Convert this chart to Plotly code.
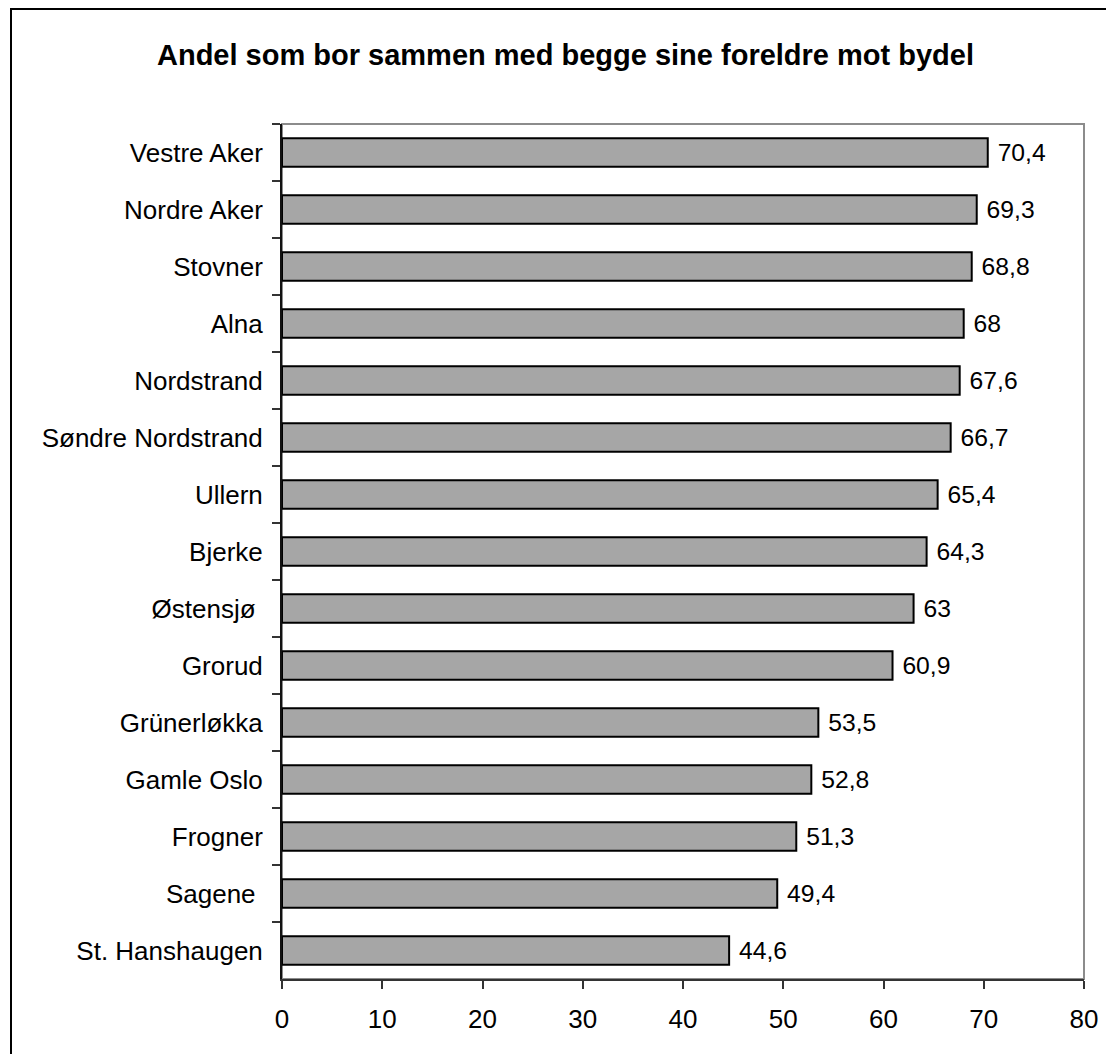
import plotly.graph_objects as go

# Districts from top to bottom, with share (%) living with both parents
bydeler = [
    "Vestre Aker", "Nordre Aker", "Stovner", "Alna", "Nordstrand",
    "Søndre Nordstrand", "Ullern", "Bjerke", "Østensjø\u00a0", "Grorud",
    "Grünerløkka", "Gamle Oslo", "Frogner", "Sagene\u00a0", "St. Hanshaugen",
]
andel = [70.4, 69.3, 68.8, 68, 67.6, 66.7, 65.4, 64.3, 63, 60.9,
         53.5, 52.8, 51.3, 49.4, 44.6]
etiketter = ["\u00a0" + f"{v:g}".replace(".", ",") for v in andel]
x_ticks = [0, 10, 20, 30, 40, 50, 60, 70, 80]

# page has an 8px body margin, so the figure is a bit smaller than the window
W, H = 1106, 1046
L, R, T, B = 274, 30, 116, 75
pw, ph = W - L - R, H - T - B

FONT = "Liberation Sans, Arial, sans-serif"

fig = go.Figure()
fig.add_trace(go.Bar(
    x=andel, y=bydeler, orientation="h",
    marker=dict(color="#A6A6A6", line=dict(color="black", width=2)),
    text=etiketter, textposition="outside",
    textfont=dict(size=26, color="black", family=FONT),
    cliponaxis=False, showlegend=False,
))

fig.update_layout(
    width=W, height=H,
    margin=dict(l=L, r=R, t=T, b=B),
    paper_bgcolor="white", plot_bgcolor="white",
    bargap=0.5,
    font=dict(family=FONT, size=26, color="black"),
    title=dict(
        text="<b>Andel som bor sammen med begge sine foreldre mot bydel</b>",
        x=(565.5 - 8) / W, xanchor="center", y=1 - 47 / H, yanchor="middle",
        font=dict(size=29, family=FONT, color="black"),
    ),
    xaxis=dict(
        range=[0, 80], tickvals=x_ticks, showgrid=False, zeroline=False,
        showline=True, linecolor="#333", linewidth=2,
        ticks="outside", ticklen=8, tickcolor="#333", tickwidth=2,
        ticklabelstandoff=8, tickfont=dict(size=26),
    ),
    yaxis=dict(
        type="category", autorange="reversed", tickson="boundaries",
        showgrid=False, zeroline=False,
        showline=True, linecolor="#111", linewidth=2,
        ticks="outside", ticklen=8, tickcolor="#333", tickwidth=2,
        ticklabelstandoff=12, tickfont=dict(size=26),
    ),
    shapes=[
        # plot area border (gray top/right)
        dict(type="rect", xref="paper", yref="paper", x0=0, y0=0, x1=1, y1=1,
             line=dict(color="#8C8C8C", width=2), layer="below"),
        # outer chart frame (cut off at right and bottom)
        dict(type="rect", xref="paper", yref="paper",
             x0=(3 - L) / pw, y0=-0.3, x1=1.2, y1=1 + (T - 1) / ph,
             line=dict(color="black", width=2), layer="below"),
    ],
)

fig.write_html("out.html")
